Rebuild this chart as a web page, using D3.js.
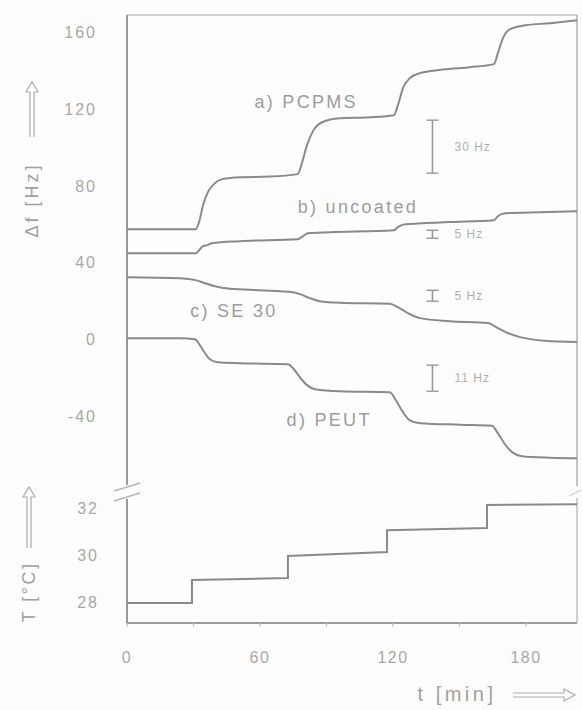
<!DOCTYPE html>
<html>
<head>
<meta charset="utf-8">
<script src="https://cdn.jsdelivr.net/npm/d3@7"></script>
<style>
  html, body { margin: 0; padding: 0; background: #fdfdfd; }
  svg { display: block; font-family: "Liberation Sans", Arial, sans-serif; }
</style>
</head>
<body>
<div id="chart"></div>
<script>
const width = 582;
const height = 710;

// --- data: [t (min), Δf (Hz)] ---
const pcpms = [
  [0, 57.8], [31, 57.8], [32.5, 61.5], [34.3, 70.3], [36.5, 77.1], [39.2, 81.3],
  [42.9, 83.9], [51, 84.9], [64.5, 85.2], [77, 86.5], [78.9, 92.2], [81.2, 101.6],
  [83.9, 108.9], [88, 113.5], [96, 115.6], [109.6, 116.1], [120.4, 117.2],
  [122.2, 122.4], [124.5, 131.3], [127.6, 136.5], [132.2, 139.1], [143.4, 141.1],
  [154.7, 142.2], [165.5, 143.8], [167.3, 149.5], [169.6, 157.3], [172.8, 162],
  [179.5, 164], [190.8, 165.1], [203, 166.7]
];
const uncoated = [
  [0, 45.3], [31, 45.3], [32.9, 47.4], [34.3, 49], [36.1, 49.5], [38.3, 50.5],
  [51, 51.6], [77, 52.6], [79.4, 54.2], [81.6, 55.7], [91.6, 56.2], [120.4, 57.3],
  [122.2, 58.9], [125.4, 60.4], [145.7, 61.5], [165.5, 62.5], [167.3, 64.6],
  [170.5, 66.1], [186.3, 66.7], [203, 67.2]
];
const se30 = [
  [0, 32.8], [23.9, 32.3], [31, 31.3], [35.2, 29.7], [39.7, 28.1], [46.5, 26.8],
  [60, 26], [74.9, 25], [78, 24], [82.5, 21.9], [87, 20.3], [96, 19.5],
  [118.6, 19], [122.2, 17.2], [126.7, 14.1], [132.2, 11.5], [145.7, 9.9],
  [162.8, 8.9], [167.3, 6.3], [171.9, 3.6], [177.3, 1.6], [188.5, -0.3], [203, -1]
];
const peut = [
  [0, 1], [23.9, 1], [30.7, 0.5], [32.9, -2.6], [35.2, -6.8], [37.4, -9.9],
  [41, -11.5], [51, -12], [72.6, -12.5], [74.9, -14.6], [78, -19.3], [81.2, -23.4],
  [84.8, -25.5], [96, -26.6], [118.6, -27.1], [121.3, -31.3], [124.5, -37.5],
  [127.6, -41.7], [132.2, -43.2], [150.2, -44], [164.6, -44.5], [167.3, -48.4],
  [170.5, -54.2], [173.7, -58.3], [178.2, -60.4], [190.8, -61.2], [203, -61.5]
];
// temperature steps [t (min), T (°C)]
const temperature = [
  [0, 28], [29.3, 28], [29.3, 28.98], [72.6, 29.06], [72.6, 30.0], [117.3, 30.17],
  [117.3, 31.1], [162.4, 31.19], [162.4, 32.17], [203, 32.2]
];

const seriesLabels = [
  { text: "a) PCPMS", t: 57.5, v: 124 },
  { text: "b) uncoated", t: 77, v: 69.5 },
  { text: "c) SE 30", t: 28.5, v: 15 },
  { text: "d) PEUT", t: 72, v: -41.5 }
];
// scale bars: position, lower/upper end (Hz), label
const scaleBars = [
  { label: "30 Hz", t: 137.8, lo: 87, hi: 114.6 },
  { label: "5 Hz", t: 137.8, lo: 53.1, hi: 57.3 },
  { label: "5 Hz", t: 137.8, lo: 20.3, hi: 26 },
  { label: "11 Hz", t: 137.8, lo: -26.6, hi: -13 }
];

const xTicks = [0, 60, 120, 180];
const xMinorTicks = [30, 90, 150];
const hzTicks = [160, 120, 80, 40, 0, -40];
const tempTicks = [32, 30, 28];

// --- layout ---
const plotLeft = 127, plotRight = 577, plotTop = 15, plotBottom = 623;
const breakY = 492;

const x = d3.scaleLinear().domain([0, 203]).range([plotLeft, plotRight]);
const yHz = d3.scaleLinear().domain([-40, 160]).range([417, 33]);
const yT = d3.scaleLinear().domain([28, 32]).range([603, 509]);

const lineCol = "#8a8a8a";
const axisCol = "#9a9a9a";
const textCol = "#a8a8a8";

const svg = d3.select("#chart")
  .append("svg")
  .attr("width", width)
  .attr("height", height)
  .style("background", "#fdfdfd");

// frame: top and right borders, left axis with a break, bottom axis
svg.append("line")
  .attr("x1", plotLeft).attr("x2", plotRight)
  .attr("y1", plotTop).attr("y2", plotTop)
  .attr("stroke", "#c4c4c4").attr("stroke-width", 1.5);
svg.append("line")
  .attr("x1", plotRight).attr("x2", plotRight)
  .attr("y1", plotTop).attr("y2", breakY - 6)
  .attr("stroke", "#b0b0b0").attr("stroke-width", 1.5);
svg.append("line")
  .attr("x1", plotRight).attr("x2", plotRight)
  .attr("y1", breakY + 6).attr("y2", plotBottom)
  .attr("stroke", "#c0c0c0").attr("stroke-width", 1.5);
svg.append("line")
  .attr("x1", plotLeft).attr("x2", plotLeft)
  .attr("y1", plotTop).attr("y2", breakY - 7)
  .attr("stroke", axisCol).attr("stroke-width", 2);
svg.append("line")
  .attr("x1", plotLeft).attr("x2", plotLeft)
  .attr("y1", breakY + 7).attr("y2", plotBottom)
  .attr("stroke", axisCol).attr("stroke-width", 2);
svg.append("line")
  .attr("x1", plotLeft).attr("x2", plotRight)
  .attr("y1", plotBottom).attr("y2", plotBottom)
  .attr("stroke", axisCol).attr("stroke-width", 1.8);

// break marks
[-5, 5].forEach(dy => {
  svg.append("line")
    .attr("x1", plotLeft - 13).attr("y1", breakY + dy + 4)
    .attr("x2", plotLeft + 13).attr("y2", breakY + dy - 4)
    .attr("stroke", "#b4b4b4").attr("stroke-width", 1.4);
});
svg.append("line")
  .attr("x1", plotRight - 8).attr("y1", breakY + 4)
  .attr("x2", plotRight + 4).attr("y2", breakY - 2)
  .attr("stroke", "#cccccc").attr("stroke-width", 1.2);

// x ticks (small, below axis)
svg.selectAll(".xtick")
  .data(xTicks.concat(xMinorTicks))
  .join("line")
  .attr("x1", d => x(d)).attr("x2", d => x(d))
  .attr("y1", plotBottom).attr("y2", plotBottom + 4)
  .attr("stroke", "#c4c4c4").attr("stroke-width", 1.2);

// tick labels
svg.selectAll(".xlab")
  .data(xTicks)
  .join("text")
  .attr("x", d => x(d))
  .attr("y", 663)
  .attr("text-anchor", "middle")
  .attr("font-size", 16)
  .attr("letter-spacing", 1.5)
  .attr("fill", textCol)
  .text(d => d);

svg.selectAll(".hzlab")
  .data(hzTicks)
  .join("text")
  .attr("x", 97)
  .attr("y", d => yHz(d) + 5)
  .attr("text-anchor", "end")
  .attr("font-size", 16)
  .attr("letter-spacing", 2)
  .attr("fill", textCol)
  .text(d => d);

svg.selectAll(".tlab")
  .data(tempTicks)
  .join("text")
  .attr("x", 99)
  .attr("y", d => yT(d) + 5)
  .attr("text-anchor", "end")
  .attr("font-size", 16)
  .attr("letter-spacing", 2)
  .attr("fill", textCol)
  .text(d => d);

// curves
const hzLine = d3.line()
  .x(d => x(d[0]))
  .y(d => yHz(d[1]))
  .curve(d3.curveMonotoneX);

[pcpms, uncoated, se30, peut].forEach(s => {
  svg.append("path")
    .datum(s)
    .attr("d", hzLine)
    .attr("fill", "none")
    .attr("stroke", lineCol)
    .attr("stroke-width", 2)
    .attr("stroke-linejoin", "round");
});

const tLine = d3.line()
  .x(d => x(d[0]))
  .y(d => yT(d[1]));

svg.append("path")
  .datum(temperature)
  .attr("d", tLine)
  .attr("fill", "none")
  .attr("stroke", lineCol)
  .attr("stroke-width", 2);

// series labels
svg.selectAll(".slab")
  .data(seriesLabels)
  .join("text")
  .attr("x", d => x(d.t))
  .attr("y", d => yHz(d.v) + 6)
  .attr("font-size", 18)
  .attr("letter-spacing", 2.3)
  .attr("fill", "#9c9c9c")
  .text(d => d.text);

// scale bars
const bars = svg.selectAll(".bar")
  .data(scaleBars)
  .join("g");

bars.append("line")
  .attr("x1", d => x(d.t)).attr("x2", d => x(d.t))
  .attr("y1", d => yHz(d.lo)).attr("y2", d => yHz(d.hi))
  .attr("stroke", "#999").attr("stroke-width", 1.6);
bars.append("line")
  .attr("x1", d => x(d.t) - 6).attr("x2", d => x(d.t) + 6)
  .attr("y1", d => yHz(d.lo)).attr("y2", d => yHz(d.lo))
  .attr("stroke", "#999").attr("stroke-width", 1.4);
bars.append("line")
  .attr("x1", d => x(d.t) - 6).attr("x2", d => x(d.t) + 6)
  .attr("y1", d => yHz(d.hi)).attr("y2", d => yHz(d.hi))
  .attr("stroke", "#999").attr("stroke-width", 1.4);
bars.append("text")
  .attr("x", d => x(d.t) + 22)
  .attr("y", d => (yHz(d.lo) + yHz(d.hi)) / 2 + 4)
  .attr("font-size", 12)
  .attr("letter-spacing", 1)
  .attr("fill", "#b0b0b0")
  .text(d => d.label);

// outline double arrows
function upArrow(cx, yTip, yTail) {
  const g = svg.append("g")
    .attr("fill", "none")
    .attr("stroke", "#ababab")
    .attr("stroke-width", 1.2);
  g.append("path")
    .attr("d", `M${cx - 2},${yTail} L${cx - 2},${yTip + 10} L${cx - 6},${yTip + 10} L${cx},${yTip} L${cx + 6},${yTip + 10} L${cx + 2},${yTip + 10} L${cx + 2},${yTail}`);
}
function rightArrow(xTail, xTip, cy) {
  const g = svg.append("g")
    .attr("fill", "none")
    .attr("stroke", "#b0b0b0")
    .attr("stroke-width", 1.2);
  g.append("path")
    .attr("d", `M${xTail},${cy - 2} L${xTip - 11},${cy - 2} L${xTip - 11},${cy - 6} L${xTip},${cy} L${xTip - 11},${cy + 6} L${xTip - 11},${cy + 2} L${xTail},${cy + 2}`);
}

upArrow(32, 82, 137);
upArrow(29, 487, 548);
rightArrow(513, 575, 695);

// axis titles
svg.append("text")
  .attr("transform", "translate(38,200) rotate(-90)")
  .attr("text-anchor", "middle")
  .attr("font-size", 18)
  .attr("letter-spacing", 3)
  .attr("fill", "#a0a0a0")
  .text("\u0394f [Hz]");

svg.append("text")
  .attr("transform", "translate(35,592) rotate(-90)")
  .attr("text-anchor", "middle")
  .attr("font-size", 18)
  .attr("letter-spacing", 2.5)
  .attr("fill", "#a0a0a0")
  .text("T [\u00b0C]");

svg.append("text")
  .attr("x", 457)
  .attr("y", 701)
  .attr("text-anchor", "middle")
  .attr("font-size", 20)
  .attr("letter-spacing", 3.5)
  .attr("fill", "#a0a0a0")
  .text("t [min]");
</script>
</body>
</html>
